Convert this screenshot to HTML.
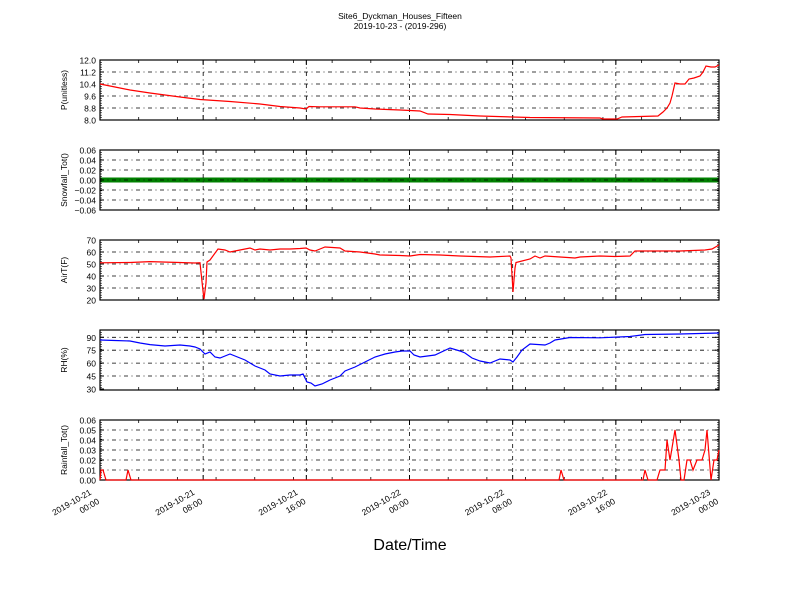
<!DOCTYPE html>
<html><head><meta charset="utf-8"><style>
body{margin:0;background:#fff;}
svg{display:block;font-family:"Liberation Sans","DejaVu Sans",sans-serif;}
</style></head><body>
<svg id="s" width="800" height="600" viewBox="0 0 800 600" xmlns="http://www.w3.org/2000/svg">
<rect width="800" height="600" fill="#fff"/>
<text x="400" y="19" font-size="8.5" text-anchor="middle">Site6_Dyckman_Houses_Fifteen</text>
<text x="400" y="29" font-size="8.5" text-anchor="middle">2019-10-23 - (2019-296)</text>
<line x1="100" y1="180" x2="719" y2="180" stroke="#008000" stroke-width="5"/>
<g id="g"></g>
<polyline fill="none" stroke="#ff0000" stroke-width="1.2" points="100,84 115,87 130,90 150,93 165,95 180,97 200,99.5 230,101.5 260,104 280,106.5 300,108 306,109 309,106.5 320,106.8 355,106.8 360,108 375,109 400,110 420,111 428,114 450,114.5 480,116 530,117.5 600,118 603,119 617,119 622,117 640,116.5 658,116 663,112 667,108 670,103 672,96 675,83 680,84 685,84 689,79 694,78 700,76 703,72 706,66 711,67 715,67 719,65"/>
<polyline fill="none" stroke="#ff0000" stroke-width="1.2" points="100,262.8 130,262.5 150,261.6 175,262.4 195,263 200,262.8 203,291 204,299 206,283 207,262 210,260 218,249 225,250 230,252 240,250 250,248 255,250 260,249 270,250 280,249 290,249 300,248.5 306,248 310,250 315,251 320,249 325,247 340,248 345,251 360,252 375,254 380,255 400,255.5 410,256 420,254.5 440,255 460,256 490,257 510,256 511,258 513,292 515,268 516,262.5 530,259 535,256 540,258 545,256 560,257 575,258 580,257 600,256 615,256.5 630,256 635,251 650,251 680,251 705,250 712,249 719,245"/>
<polyline fill="none" stroke="#0000ff" stroke-width="1.2" points="100,340 115,340.5 130,341 140,343 150,344.6 165,346 180,345 190,346 195,347 200,349 205,354 210,352 215,357 220,358 225,356 230,354 235,356 245,360 255,366 265,370 270,374 280,376 290,375 300,375 303,374 307,382 311,383 315,386 322,384 330,380 340,376 345,371 355,367 365,362 375,357 385,354 395,352 402,351 410,351 414,355 420,357 435,355 450,348 460,351 465,353 472,358 480,361 490,363 500,359 510,360 513,362 517,357 522,350 530,344 545,345 550,343 555,340 570,337.5 600,337.8 630,336.5 645,334.5 680,334 719,333"/>
<polyline fill="none" stroke="#ff0000" stroke-width="1.2" points="100,480 101,470 103,470 106,480 126,480 128,470 131,480 559,480 561,470 564,480 643,480 645,470 648,480 657,480 660,470 665,470 667,440 670,460 675,430 679,460 681,480 684,480 687,460 690,460 693,470 697,460 702,460 705,450 707,430 711,480 714,460 717,460 719,450"/>
<text x="410" y="550" font-size="16" text-anchor="middle">Date/Time</text>
</svg>
<script>
const NS="http://www.w3.org/2000/svg",g=document.getElementById("g");
function el(t,a,txt){const e=document.createElementNS(NS,t);for(const k in a)e.setAttribute(k,a[k]);if(txt!==undefined)e.textContent=txt;g.appendChild(e);return e;}
const X0=100,X1=719,W=X1-X0;
const DA="4,3.5,1,3.5";
const panels=[
 {top:60,lab:"P(unitless)",ticks:[["12.0",60],["11.2",72],["10.4",84],["9.6",96],["8.8",108],["8.0",120]]},
 {top:150,lab:"Snowfall_Tot()",ticks:[["0.06",150],["0.04",160],["0.02",170],["0.00",180],["\u22120.02",190],["\u22120.04",200],["\u22120.06",210]]},
 {top:240,lab:"AirT(F)",ticks:[["70",240],["60",252],["50",264],["40",276],["30",288],["20",300]]},
 {top:330,lab:"RH(%)",ticks:[["90",337.3],["75",350.2],["60",363.1],["45",376],["30",389]]},
 {top:420,lab:"Rainfall_Tot()",ticks:[["0.06",420],["0.05",430],["0.04",440],["0.03",450],["0.02",460],["0.01",470],["0.00",480]]}
];
const hx=W/48;
panels.forEach(p=>{
 const t=p.top,b=t+60;
 p.ticks.forEach(([s,y])=>{
  if(y>t+1&&y<b-1)el("line",{x1:X0,y1:y,x2:X1,y2:y,stroke:"#000","stroke-width":0.8,"stroke-dasharray":DA});
  el("line",{x1:X0,y1:y,x2:X0+4,y2:y,stroke:"#000","stroke-width":1});
  el("line",{x1:X1-4,y1:y,x2:X1,y2:y,stroke:"#000","stroke-width":1});
  el("text",{x:X0-4,y:y+3.5,"font-size":"8.5","text-anchor":"end"},s);
 });
 for(let y=t;y<=b;y+=2.4){el("line",{x1:X0,y1:y,x2:X0+2,y2:y,stroke:"#000","stroke-width":0.6});el("line",{x1:X1-2,y1:y,x2:X1,y2:y,stroke:"#000","stroke-width":0.6});}
 for(let h=8;h<48;h+=8){const x=X0+h*hx;el("line",{x1:x,y1:t,x2:x,y2:b,stroke:"#000","stroke-width":0.8,"stroke-dasharray":DA});el("line",{x1:x,y1:t,x2:x,y2:t+5,stroke:"#000"});el("line",{x1:x,y1:b-5,x2:x,y2:b,stroke:"#000"});}
 for(let h=3;h<48;h+=3){const x=X0+h*hx;el("line",{x1:x,y1:t,x2:x,y2:t+3,stroke:"#000","stroke-width":0.8});el("line",{x1:x,y1:b-3,x2:x,y2:b,stroke:"#000","stroke-width":0.8});}
 el("rect",{x:X0,y:t,width:W,height:60,fill:"none",stroke:"#000","stroke-width":1.2});
 el("text",{x:0,y:0,"font-size":"8.5","text-anchor":"middle",transform:`translate(67,${t+30}) rotate(-90)`},p.lab);
});
const labs=[["2019-10-21","00:00"],["2019-10-21","08:00"],["2019-10-21","16:00"],["2019-10-22","00:00"],["2019-10-22","08:00"],["2019-10-22","16:00"],["2019-10-23","00:00"]];
labs.forEach((l,i)=>{const x=X0+i*8*hx;
 el("text",{x:0,y:0,"font-size":"8.5","text-anchor":"end",transform:`translate(${x-8},${494}) rotate(-30)`},l[0]);
 el("text",{x:0,y:0,"font-size":"8.5","text-anchor":"end",transform:`translate(${x},${503}) rotate(-30)`},l[1]);
});
</script>
</body></html>
